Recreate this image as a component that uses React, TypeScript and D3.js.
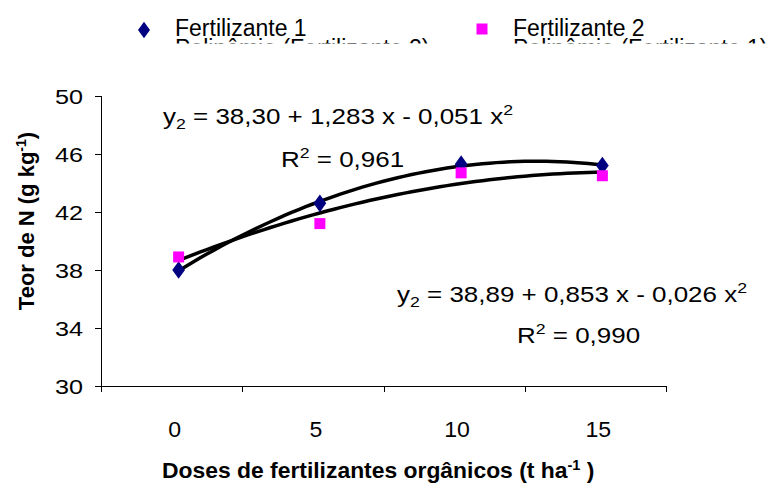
import { useRef, useEffect } from 'react'
import * as d3 from 'd3'

const doses = ['0', '5', '10', '15']
const fert1 = [38.0, 42.6, 45.3, 45.2]
const fert2 = [38.9, 41.2, 44.7, 44.5]
const yTicks = [30, 34, 38, 42, 46, 50]
const seriesNames = ['Fertilizante 1', 'Fertilizante 2']
const trendNames = ['Polinômio (Fertilizante 2)', 'Polinômio (Fertilizante 1)']

const W = 781
const H = 486
const font = 'Arial, "Liberation Sans", sans-serif'

// quadratic least squares on category index (like the spreadsheet trendline)
function quadFit(ys) {
  const xs = ys.map((_, i) => i)
  const m = (ys.length - 1) / 2
  const p1 = xs.map(x => x - m)
  const p2m = d3.mean(p1.map(v => v * v))
  const p2 = p1.map(v => v * v - p2m)
  const my = d3.mean(ys)
  const b1 = d3.sum(ys.map((y, i) => y * p1[i])) / d3.sum(p1.map(v => v * v))
  const b2 = d3.sum(ys.map((y, i) => y * p2[i])) / d3.sum(p2.map(v => v * v))
  return t => my + b1 * (t - m) + b2 * ((t - m) * (t - m) - p2m)
}

const App = () => {
  const ref = useRef(null)

  useEffect(() => {
    const svg = d3.select(ref.current)
    svg.selectAll('*').remove()

    const x = d3.scaleBand().domain(doses).range([101, 666]).padding(0)
    const y = d3.scaleLinear().domain([30, 50]).range([386, 96])
    const ptX = d => x(d) + x.bandwidth() / 2 + 7
    const tX = d3.scaleLinear().domain([0, doses.length - 1]).range([ptX(doses[0]), ptX(doses[doses.length - 1])])

    // axes
    const ax = svg.append('g').attr('stroke', '#000').attr('stroke-width', 1)
    ax.append('line').attr('x1', 101.5).attr('x2', 101.5).attr('y1', y(50)).attr('y2', y(30))
    ax.append('line').attr('x1', 101).attr('x2', 666).attr('y1', 386.5).attr('y2', 386.5)
    yTicks.forEach(t => {
      ax.append('line').attr('x1', 95).attr('x2', 101).attr('y1', Math.round(y(t)) + 0.5).attr('y2', Math.round(y(t)) + 0.5)
    })
    d3.range(doses.length + 1).forEach(i => {
      const xx = Math.round(101 + x.bandwidth() * i) + 0.5
      ax.append('line').attr('x1', xx).attr('x2', xx).attr('y1', 386).attr('y2', 392)
    })

    svg.append('g').selectAll('text').data(yTicks).join('text')
      .attr('transform', d => `translate(83,${y(d) + 8}) scale(1.2,1)`)
      .attr('text-anchor', 'end').attr('font-size', 21).attr('font-family', font)
      .text(d => d)

    svg.append('g').selectAll('text').data(doses).join('text')
      .attr('transform', d => `translate(${x(d) + x.bandwidth() / 2 + 3},437) scale(1.05,1)`)
      .attr('text-anchor', 'middle').attr('font-size', 22).attr('font-family', font)
      .text(d => d)

    // axis titles
    const yt = svg.append('text')
      .attr('transform', 'translate(34,221) rotate(-90)')
      .attr('text-anchor', 'middle').attr('font-size', 22).attr('font-weight', 'bold').attr('font-family', font)
    yt.append('tspan').text('Teor de N (g kg')
    yt.append('tspan').attr('dy', -8).attr('font-size', 14).text('-1')
    yt.append('tspan').attr('dy', 8).text(')')

    const xt = svg.append('text')
      .attr('transform', 'translate(162,478) scale(1.04,1)')
      .attr('font-size', 22).attr('font-weight', 'bold').attr('font-family', font)
    xt.append('tspan').text('Doses de fertilizantes orgânicos (t ha')
    xt.append('tspan').attr('dy', -8).attr('font-size', 14).text('-1')
    xt.append('tspan').attr('dy', 8).text(' )')

    // trend lines
    const line = d3.line().x(d => tX(d[0])).y(d => y(d[1]))
    const steps = d3.range(0, 3.0001, 0.05)
    ;[fert1, fert2].forEach(s => {
      const f = quadFit(s)
      svg.append('path').datum(steps.map(t => [t, f(t)]))
        .attr('d', line).attr('fill', 'none').attr('stroke', '#000').attr('stroke-width', 3.5)
    })

    // points
    const diamond = d3.symbol().type(d3.symbolDiamond).size(90)
    svg.append('g').selectAll('path').data(fert1).join('path')
      .attr('d', diamond)
      .attr('transform', (d, i) => `translate(${ptX(doses[i])},${y(d)}) scale(1.25,1)`)
      .attr('fill', '#000080')
    svg.append('g').selectAll('rect').data(fert2).join('rect')
      .attr('x', (d, i) => ptX(doses[i]) - 5.5).attr('y', d => y(d) - 5.5)
      .attr('width', 11).attr('height', 11).attr('fill', '#ff00ff')

    // equations
    const eq = (xx, yy, a, b, r) => {
      const t = svg.append('text').attr('transform', `translate(${xx},${yy}) scale(1.18,1)`)
        .attr('font-size', 22).attr('font-family', font)
      t.append('tspan').text('y')
      t.append('tspan').attr('dy', 5).attr('font-size', 15).text('2')
      t.append('tspan').attr('dy', -5).text(` = ${a} x - ${b} x`)
      t.append('tspan').attr('dy', -9).attr('font-size', 15).text('2')
      const t2 = svg.append('text').attr('transform', `translate(${r[0]},${r[1]}) scale(1.18,1)`)
        .attr('font-size', 22).attr('font-family', font)
      t2.append('tspan').text('R')
      t2.append('tspan').attr('dy', -9).attr('font-size', 15).text('2')
      t2.append('tspan').attr('dy', 9).text(` = ${r[2]}`)
    }
    eq(163, 124, '38,30 + 1,283', '0,051', [281, 167, '0,961'])
    eq(397, 302, '38,89 + 0,853', '0,026', [517, 343, '0,990'])

    // legend (clipped like the original)
    svg.append('clipPath').attr('id', 'legclip')
      .append('rect').attr('x', 0).attr('y', 0).attr('width', W).attr('height', 43.5)
    const leg = svg.append('g').attr('clip-path', 'url(#legclip)')
    leg.append('path').attr('d', d3.symbol().type(d3.symbolDiamond).size(80))
      .attr('transform', 'translate(144,30) scale(1.25,1)').attr('fill', '#000080')
    leg.append('rect').attr('x', 476.5).attr('y', 23.5).attr('width', 11).attr('height', 11).attr('fill', '#ff00ff')
    const lx = [175, 513]
    seriesNames.forEach((n, i) => {
      leg.append('text').attr('x', lx[i]).attr('y', 36).attr('font-size', 23).attr('font-family', font).text(n)
      leg.append('text').attr('x', lx[i]).attr('y', 56).attr('font-size', 23).attr('font-family', font).text(trendNames[i])
    })
  }, [])

  return (
    <svg ref={ref} width={W} height={H} style={{ position: 'absolute', left: 0, top: 0, background: '#fff' }} />
  )
}

export default App
